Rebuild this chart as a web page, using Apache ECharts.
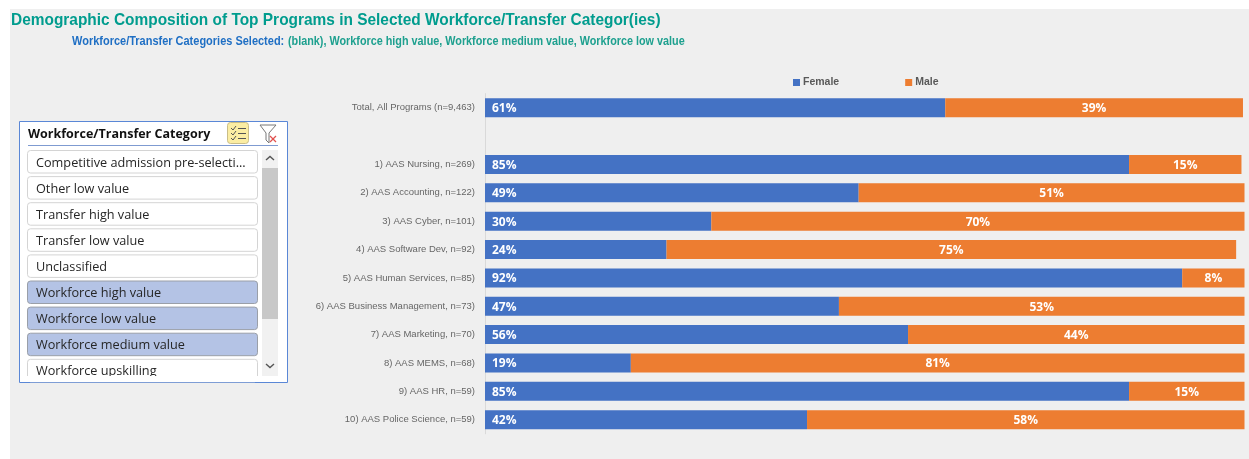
<!DOCTYPE html>
<html>
<head>
<meta charset="utf-8">
<title>Demographic Composition of Top Programs</title>
<style>
html, body { margin: 0; padding: 0; background: #fff; }
#main { width: 1249px; height: 459px; }
</style>
<script src="https://cdn.jsdelivr.net/npm/echarts@6/dist/echarts.min.js"></script>
</head>
<body>
<div id="main"></div>
<script>
//数据
var programs = [
    "Total, All Programs (n=9,463)",
    "",
    "1) AAS Nursing, n=269)",
    "2) AAS Accounting, n=122)",
    "3) AAS Cyber, n=101)",
    "4) AAS Software Dev, n=92)",
    "5) AAS Human Services, n=85)",
    "6) AAS Business Management, n=73)",
    "7) AAS Marketing, n=70)",
    "8) AAS MEMS, n=68)",
    "9) AAS HR, n=59)",
    "10) AAS Police Science, n=59)"
];
var female = [60.6, null, 84.8, 49.2, 29.8, 23.9, 91.8, 46.6, 55.7, 19.2, 84.8, 42.4];
var male = [39.2, null, 14.8, 50.8, 70.2, 75.0, 8.2, 53.4, 44.3, 80.8, 15.2, 57.6];

var slicerTitle = "Workforce/Transfer Category";
var slicerItems = [
    "Competitive admission pre-selecti...",
    "Other low value",
    "Transfer high value",
    "Transfer low value",
    "Unclassified",
    "Workforce high value",
    "Workforce low value",
    "Workforce medium value",
    "Workforce upskilling"
];
var slicerSelected = ["Workforce high value", "Workforce low value", "Workforce medium value"];

var mainTitle = "Demographic Composition of Top Programs in Selected Workforce/Transfer Categor(ies)";
var subLabel = "Workforce/Transfer Categories Selected:";
var subValue = "(blank), Workforce high value, Workforce medium value, Workforce low value";

var headFont = '"Liberation Sans", sans-serif';
var slicerFont = '"Open Sans", "Noto Sans", sans-serif';

function pctLabel(p) {
    return Math.round(p.value) + "%";
}

//标题用横向压缩的文字
function titleGraphics() {
    return [
        {type: 'text', x: 11, y: 20, scaleX: 0.908, z: 3, style: {text: mainTitle, fill: '#009c8e',
            font: 'bold 17px ' + headFont, textVerticalAlign: 'middle'}},
        {type: 'text', x: 72, y: 41, scaleX: 0.845, z: 3, style: {text: subLabel, fill: '#1f6fc4',
            font: 'bold 13px ' + headFont, textVerticalAlign: 'middle'}},
        {type: 'text', x: 288, y: 41, scaleX: 0.832, z: 3, style: {text: subValue, fill: '#1ea08f',
            font: 'bold 13px ' + headFont, textVerticalAlign: 'middle'}}
    ];
}

//切片器
function slicerGraphics() {
    var g = [];
    g.push({type: 'rect', shape: {x: 10, y: 9, width: 1239, height: 450}, style: {fill: '#efefef'}, z: -10});
    g.push({type: 'rect', shape: {x: 19.5, y: 121.5, width: 268, height: 261},
        style: {fill: '#fff', stroke: '#5a87d6', lineWidth: 1}, z: 1});
    g.push({type: 'text', x: 28, y: 134, style: {text: slicerTitle, fill: '#111',
        font: 'bold 12.5px ' + slicerFont, textVerticalAlign: 'middle'}, z: 3});
    g.push({type: 'line', shape: {x1: 28, y1: 145.5, x2: 278, y2: 145.5},
        style: {stroke: '#7f9bd1', lineWidth: 1}, z: 3});

    //勾选按钮
    g.push({type: 'rect', shape: {x: 227.5, y: 122.5, width: 21, height: 21, r: 3},
        style: {fill: '#fbeda3', stroke: '#c9bd88', lineWidth: 1}, z: 3});
    [128, 133, 138].forEach(function (y) {
        g.push({type: 'polyline', shape: {points: [[231, y], [233, y + 2], [236, y - 2]]},
            style: {stroke: '#555', fill: null, lineWidth: 1}, z: 4});
        g.push({type: 'line', shape: {x1: 238, y1: y + 0.5, x2: 246, y2: y + 0.5},
            style: {stroke: '#555', lineWidth: 1}, z: 4});
    });
    //清除筛选按钮
    g.push({type: 'polyline', shape: {points: [[260, 125], [276, 125], [269, 133], [269, 143], [266, 140], [266, 133], [260, 125]]},
        style: {stroke: '#777', fill: null, lineWidth: 1}, z: 4});
    g.push({type: 'line', shape: {x1: 270, y1: 136, x2: 276, y2: 142}, style: {stroke: '#e0524f', lineWidth: 1.3}, z: 4});
    g.push({type: 'line', shape: {x1: 276, y1: 136, x2: 270, y2: 142}, style: {stroke: '#e0524f', lineWidth: 1.3}, z: 4});

    slicerItems.forEach(function (name, i) {
        var top = 150.5 + i * 26.1;
        var on = slicerSelected.indexOf(name) >= 0;
        g.push({type: 'rect', shape: {x: 27.5, y: top, width: 230, height: 22.5, r: 3},
            style: {fill: on ? '#b4c3e5' : '#fff', stroke: on ? '#9a9fa8' : '#d4d4d4', lineWidth: 1}, z: 2});
        g.push({type: 'text', x: 36, y: top + 12.5, style: {text: name, fill: '#262626',
            font: '12.7px ' + slicerFont, textVerticalAlign: 'middle'}, z: 3});
    });

    //滚动条
    g.push({type: 'rect', shape: {x: 262, y: 150, width: 16, height: 226}, style: {fill: '#f1f1f1'}, z: 3});
    g.push({type: 'rect', shape: {x: 262, y: 168, width: 16, height: 151}, style: {fill: '#c8c8c8'}, z: 4});
    g.push({type: 'polyline', shape: {points: [[266, 160], [270, 156.5], [274, 160]]},
        style: {stroke: '#555', fill: null, lineWidth: 1.4}, z: 4});
    g.push({type: 'polyline', shape: {points: [[266, 364], [270, 367.5], [274, 364]]},
        style: {stroke: '#555', fill: null, lineWidth: 1.4}, z: 4});
    //最后一项被裁切
    g.push({type: 'rect', shape: {x: 20, y: 376, width: 267, height: 6}, style: {fill: '#fff'}, z: 5});
    return g;
}

var myChart = echarts.init(document.getElementById('main'));
var option = {
    animation: false,
    backgroundColor: '#fff',
    legend: {
        left: 788,
        top: 72,
        itemWidth: 7,
        itemHeight: 7,
        itemGap: 66,
        icon: 'rect',
        textStyle: {color: '#595959', fontFamily: headFont, fontSize: 10.5, fontWeight: 'bold', padding: [0, 0, 0, -2]},
        data: ['Female', 'Male']
    },
    grid: {left: 485, right: 4.5, top: 93.6, bottom: 25.2},
    xAxis: {type: 'value', min: 0, max: 100, show: false},
    yAxis: {
        type: 'category',
        inverse: true,
        data: programs,
        offset: 1,
        axisTick: {show: false},
        axisLine: {lineStyle: {color: '#d9d9d9'}},
        axisLabel: {color: '#666666', fontFamily: headFont, fontSize: 9.5, margin: 9, interval: 0, padding: [3, 0, 0, 0]}
    },
    graphic: titleGraphics().concat(slicerGraphics()),
    series: [{
        name: 'Female',
        type: 'bar',
        stack: 'total',
        barWidth: 19,
        data: female,
        itemStyle: {color: '#4472c4'},
        label: {show: true, position: 'insideLeft', distance: 7, offset: [0, 1], color: '#fff',
            fontFamily: slicerFont, fontWeight: 'bold', fontSize: 12, formatter: pctLabel}
    }, {
        name: 'Male',
        type: 'bar',
        stack: 'total',
        barWidth: 19,
        data: male,
        itemStyle: {color: '#ed7d31'},
        label: {show: true, position: 'inside', offset: [0, 1], color: '#fff',
            fontFamily: slicerFont, fontWeight: 'bold', fontSize: 12, formatter: pctLabel}
    }]
};
myChart.setOption(option);
</script>
</body>
</html>
